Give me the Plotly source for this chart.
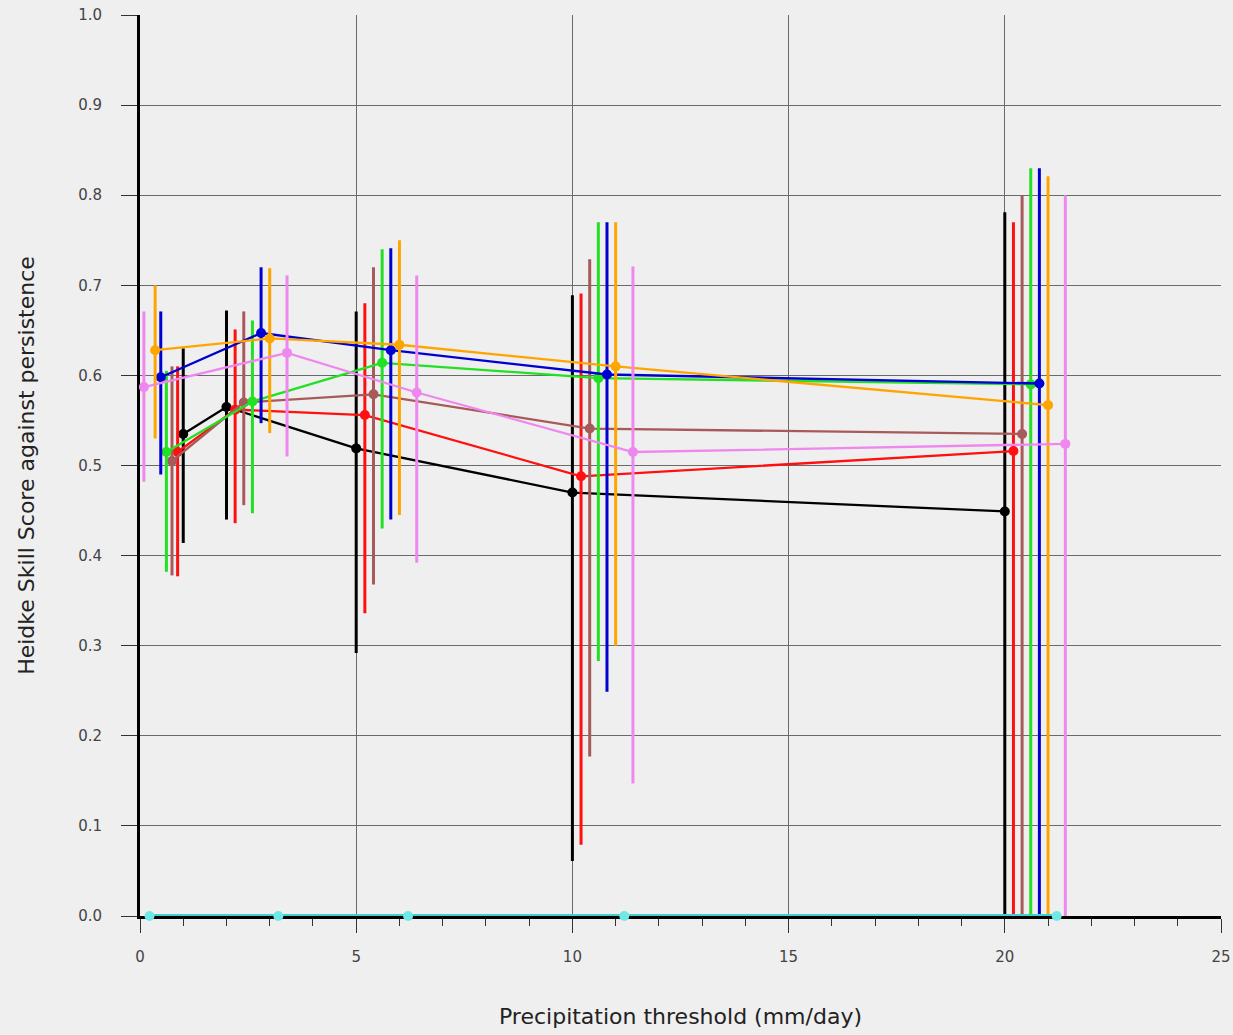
import plotly.graph_objects as go

# ---- data ----
series_names = ["black", "red", "brown", "green", "blue", "orange", "cyan", "violet"]

x_black  = [1.00, 2.0, 5.0, 10.0, 20.0]
x_red    = [0.87, 2.2, 5.2, 10.2, 20.2]
x_brown  = [0.74, 2.4, 5.4, 10.4, 20.4]
x_green  = [0.61, 2.6, 5.6, 10.6, 20.6]
x_blue   = [0.48, 2.8, 5.8, 10.8, 20.8]
x_orange = [0.35, 3.0, 6.0, 11.0, 21.0]
x_cyan   = [0.22, 3.2, 6.2, 11.2, 21.2]
x_violet = [0.09, 3.4, 6.4, 11.4, 21.4]

y_black  = [0.535, 0.565, 0.519, 0.470, 0.449]
y_red    = [0.515, 0.562, 0.556, 0.488, 0.516]
y_brown  = [0.505, 0.570, 0.579, 0.541, 0.535]
y_green  = [0.515, 0.571, 0.614, 0.597, 0.590]
y_blue   = [0.598, 0.647, 0.628, 0.601, 0.591]
y_orange = [0.628, 0.641, 0.634, 0.610, 0.567]
y_cyan   = [0.0, 0.0, 0.0, 0.0, 0.0]
y_violet = [0.587, 0.625, 0.581, 0.515, 0.524]

lo_black  = [0.414, 0.440, 0.292, 0.061, 0.0]
hi_black  = [0.630, 0.672, 0.671, 0.689, 0.781]
lo_red    = [0.377, 0.436, 0.336, 0.079, 0.0]
hi_red    = [0.610, 0.651, 0.680, 0.691, 0.770]
lo_brown  = [0.378, 0.456, 0.368, 0.177, 0.0]
hi_brown  = [0.610, 0.671, 0.720, 0.729, 0.800]
lo_green  = [0.382, 0.447, 0.430, 0.283, 0.0]
hi_green  = [0.605, 0.661, 0.740, 0.770, 0.830]
lo_blue   = [0.490, 0.547, 0.440, 0.249, 0.0]
hi_blue   = [0.671, 0.720, 0.741, 0.770, 0.830]
lo_orange = [0.530, 0.536, 0.445, 0.300, 0.0]
hi_orange = [0.700, 0.719, 0.750, 0.770, 0.821]
lo_cyan   = [0.0, 0.0, 0.0, 0.0, 0.0]
hi_cyan   = [0.0, 0.0, 0.0, 0.0, 0.0]
lo_violet = [0.482, 0.510, 0.392, 0.147, 0.0]
hi_violet = [0.671, 0.711, 0.711, 0.721, 0.800]

x_ticks = [0, 5, 10, 15, 20, 25]
y_ticks = [0.0, 0.1, 0.2, 0.3, 0.4, 0.5, 0.6, 0.7, 0.8, 0.9, 1.0]

colors = {
    "black": "#000000", "red": "#ff1010", "brown": "#a85a5a", "green": "#22e022",
    "blue": "#0000d0", "orange": "#ffa500", "cyan": "#40d0d0", "violet": "#ee88ee",
}

data = {
    "black": (x_black, y_black, lo_black, hi_black),
    "red": (x_red, y_red, lo_red, hi_red),
    "brown": (x_brown, y_brown, lo_brown, hi_brown),
    "green": (x_green, y_green, lo_green, hi_green),
    "blue": (x_blue, y_blue, lo_blue, hi_blue),
    "orange": (x_orange, y_orange, lo_orange, hi_orange),
    "cyan": (x_cyan, y_cyan, lo_cyan, hi_cyan),
    "violet": (x_violet, y_violet, lo_violet, hi_violet),
}

fig = go.Figure()
for name in series_names:
    xs, ys, lo, hi = data[name]
    c = colors[name]
    is_cyan = name == "cyan"
    fig.add_trace(go.Scatter(
        x=xs, y=ys, mode="lines+markers", name=name,
        line=dict(color=c, width=4 if is_cyan else 2.3),
        marker=dict(color="#70e8e8" if is_cyan else c, size=10, symbol="circle"),
        error_y=dict(type="data", symmetric=False,
                     array=[h - v for h, v in zip(hi, ys)],
                     arrayminus=[v - l for v, l in zip(ys, lo)],
                     color=c, thickness=3, width=0, visible=not is_cyan),
        cliponaxis=False,
        showlegend=False,
    ))

font_family = "DejaVu Sans, Arial, sans-serif"
fig.update_layout(
    width=1233, height=1035,
    margin=dict(l=140, r=12, t=15, b=119),
    paper_bgcolor="#efefef", plot_bgcolor="#efefef",
    font=dict(family=font_family, size=15, color="#444444"),
    showlegend=False,
)
fig.update_xaxes(
    range=[0, 25], tickvals=x_ticks, ticktext=[str(v) for v in x_ticks],
    automargin=False,
    showgrid=True, gridcolor="#6a6a6a", gridwidth=1, zeroline=False,
    showline=True, linecolor="#000000", linewidth=3, layer="below traces",
    ticks="outside", ticklen=14, tickcolor="#333333", tickwidth=1,
    ticklabelstandoff=11,
    minor=dict(dtick=1, ticks="outside", ticklen=7, tickcolor="#333333", showgrid=False),
    title=dict(text="Precipitation threshold (mm/day)", font=dict(size=22, color="#222222"), standoff=44),
)
fig.update_yaxes(
    range=[0, 1.0], tickvals=y_ticks, ticktext=[f"{v:.1f}" for v in y_ticks],
    automargin=False,
    showgrid=True, gridcolor="#6a6a6a", gridwidth=1, zeroline=False,
    showline=True, linecolor="#000000", linewidth=3, layer="below traces",
    ticks="outside", ticklen=16, tickcolor="#333333", tickwidth=1,
    ticklabelstandoff=16,
    title=dict(text="Heidke Skill Score against persistence", font=dict(size=22, color="#222222"), standoff=38),
)

fig.write_html(
    "out.html",
    config={"displayModeBar": False},
    post_script="document.body.style.margin='0';document.body.style.background='#efefef';",
)
